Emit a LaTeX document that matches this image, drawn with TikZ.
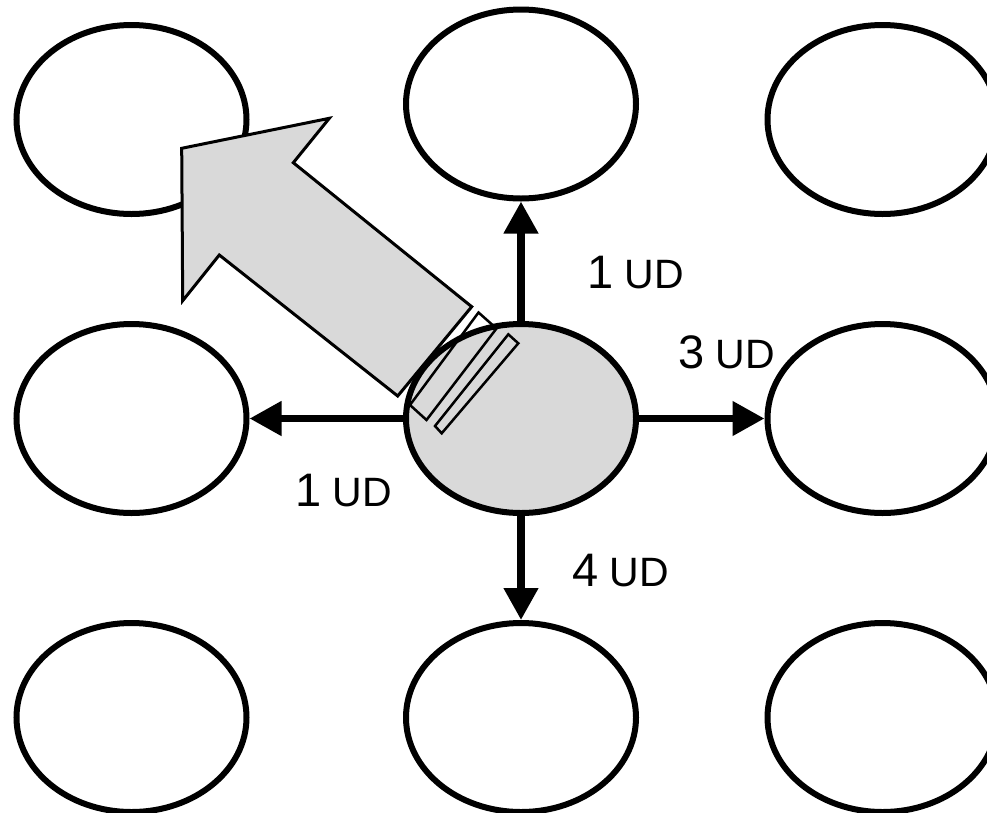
\documentclass[tikz,border=0pt]{standalone}
\usepackage{fontspec}
\setmainfont{Liberation Sans}
\definecolor{hubgray}{RGB}{217,217,217}
\usetikzlibrary{shapes.geometric,arrows.meta,positioning}

\begin{document}
\begin{tikzpicture}[
    x=1pt, y=-1pt,
    node distance=104pt,
    cell/.style={ellipse, draw, line width=6pt, minimum width=230pt, minimum height=189pt, inner sep=0pt},
    link/.style={line width=7.5pt, line cap=round, -{Triangle[length=32pt,width=33pt]}},
    bigarrow/.style={draw, fill=hubgray, line width=3pt, line join=miter},
    band/.style={draw, line width=2.5pt, line join=miter},
    dist/.style={anchor=base west, inner sep=0pt, font=\fontsize{47}{50}\selectfont}
]
\useasboundingbox (0,0) rectangle (987,812);

% grid of cells around the hub
\node[cell, fill=hubgray] (hub) at (521,418.5) {};
\node[cell, above=119.5pt of hub] (tm) {};
\node[cell, left=153.5pt of hub] (ml) {};
\node[cell, right=125.5pt of hub] (mr) {};
\node[cell, below=of hub] (bm) {};
\node[cell, above=of ml] (tl) {};
\node[cell, below=of ml] (bl) {};
\node[cell, above=of mr] (tr) {};
\node[cell, below=of mr] (br) {};

% big arrow and bands
\path[bigarrow] (181.7,148.3) -- (329.3,118.3) -- (293.3,162.7) -- (471.7,306.7)
    -- (397.7,396) -- (219.3,255) -- (182.7,300.7) -- cycle;
\path[band] (478.5,312.5) -- (496.5,328.5) -- (426.5,420) -- (410,405) -- cycle;
\path[band] (508.3,334.3) -- (518.3,343.3) -- (441.7,433.3) -- (435,426) -- cycle;

% moves
\draw[link] (hub.north) -- (tm.south);
\draw[link] (hub.west) -- (ml.east);
\draw[link] (hub.east) -- (mr.west);
\draw[link] (hub.south) -- (bm.north);

\node[dist] (dup) at (587,288) {1{\fontsize{41}{44}\selectfont{} UD}};
\node[dist] (dright) at (678,368) {3{\fontsize{41}{44}\selectfont{} UD}};
\node[dist] (dleft) at (295,506) {1{\fontsize{41}{44}\selectfont{} UD}};
\node[dist] (ddown) at (572,586) {4{\fontsize{41}{44}\selectfont{} UD}};

\end{tikzpicture}
\end{document}
